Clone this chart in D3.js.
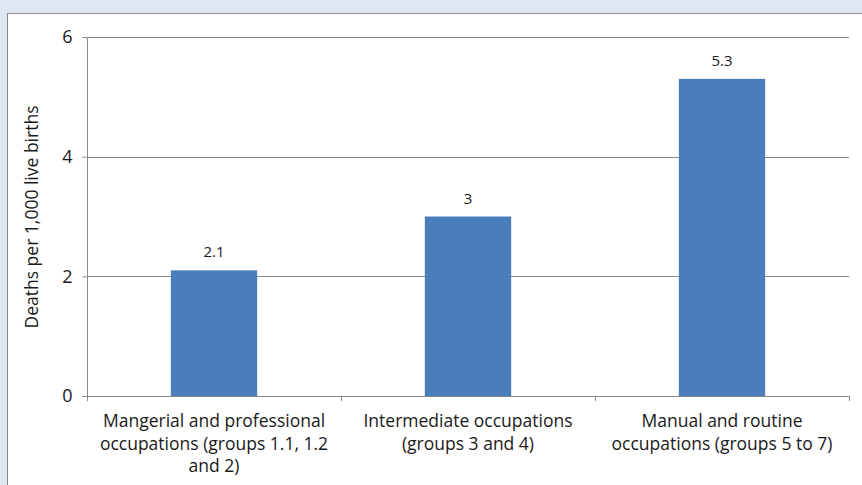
<!DOCTYPE html>
<html><head><meta charset="utf-8">
<script src="https://cdn.jsdelivr.net/npm/d3@7"></script>
<style>
html,body{margin:0;padding:0;background:#dfe7f3;}
svg{display:block;}
text{font-family:"Open Sans","Liberation Sans",sans-serif;fill:#1a1a1a;}
</style></head><body>
<svg id="chart" width="862" height="485"></svg>
<script>
const categories = [
  ["Mangerial and professional", "occupations (groups 1.1, 1.2", "and 2)"],
  ["Intermediate occupations", "(groups 3 and 4)"],
  ["Manual and routine", "occupations (groups 5 to 7)"]
];
const values = [2.1, 3, 5.3];
const valueLabels = ["2.1", "3", "5.3"];
const yTicks = [0, 2, 4, 6];
const yTitle = "Deaths per 1,000 live births";

const svg = d3.select("#chart");
svg.append("rect").attr("x",7.5).attr("y",13.5).attr("width",870).attr("height",480)
  .attr("fill","#fff").attr("stroke","#8c8c8c").attr("stroke-width",1);

const m = {left:87, right:849, top:37, bottom:396};
const x = d3.scaleBand().domain(d3.range(categories.length)).range([m.left,m.right])
  .paddingInner(0.66).paddingOuter(0.33);
const y = d3.scaleLinear().domain([0,6]).range([m.bottom,m.top]);

svg.append("g").selectAll("line").data(yTicks.filter(d=>d>0)).join("line")
  .attr("x1",m.left).attr("x2",m.right)
  .attr("y1",d=>Math.round(y(d))+0.5).attr("y2",d=>Math.round(y(d))+0.5)
  .attr("stroke","#8a8a8a").attr("stroke-width",1);

svg.append("g").selectAll("rect").data(values).join("rect")
  .attr("x",(d,i)=>x(i)).attr("width",x.bandwidth())
  .attr("y",d=>y(d)).attr("height",d=>y(0)-y(d))
  .attr("fill","#4a7ebb");

svg.append("g").selectAll("text").data(values).join("text")
  .attr("x",(d,i)=>x(i)+x.bandwidth()/2).attr("y",d=>y(d)-13)
  .attr("text-anchor","middle").attr("font-size",15).attr("fill","#333")
  .text((d,i)=>valueLabels[i]);

const yAxis = svg.append("g").attr("transform",`translate(${m.left+0.5},0)`)
  .call(d3.axisLeft(y).tickValues(yTicks).tickSize(5).tickPadding(10).tickFormat(d3.format("d")));
yAxis.select(".domain").attr("stroke","#8a8a8a").attr("d",`M-5,${m.top+0.5}H0V${m.bottom+0.5}H-5`);
yAxis.selectAll(".tick line").attr("stroke","#8a8a8a");
yAxis.selectAll(".tick text").attr("font-size",18).attr("font-family","Open Sans, Liberation Sans, sans-serif").attr("fill","#1a1a1a");

const xTickPos = d3.range(categories.length+1).map(i=>m.left + i*(m.right-m.left)/categories.length);
svg.append("line").attr("x1",m.left).attr("x2",m.right)
  .attr("y1",m.bottom+0.5).attr("y2",m.bottom+0.5).attr("stroke","#8a8a8a");
svg.append("g").selectAll("line").data(xTickPos).join("line")
  .attr("x1",d=>Math.round(d)+0.5).attr("x2",d=>Math.round(d)+0.5)
  .attr("y1",m.bottom).attr("y2",m.bottom+5).attr("stroke","#8a8a8a");

const cl = svg.append("g").selectAll("text").data(categories).join("text")
  .attr("text-anchor","middle").attr("font-size",17.5);
cl.each(function(lines,i){
  const t = d3.select(this);
  lines.forEach((ln,j)=>{
    t.append("tspan").attr("x",x(i)+x.bandwidth()/2).attr("y",427+j*22.5).text(ln);
  });
});

svg.append("text").attr("transform","translate(38,217) rotate(-90)")
  .attr("text-anchor","middle").attr("font-size",17.5).text(yTitle);
</script>
</body></html>
